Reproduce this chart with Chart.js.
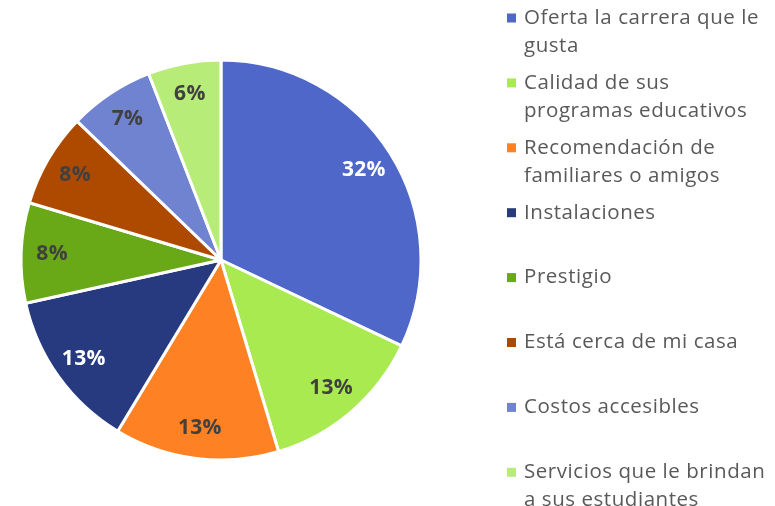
<!DOCTYPE html>
<html>
<head>
<meta charset="utf-8">
<script src="https://cdn.jsdelivr.net/npm/chart.js@4.4.1/dist/chart.umd.min.js"></script>
<style>
html,body{margin:0;padding:0;background:#fff;}
#wrap{width:775px;height:506px;position:relative;}
</style>
</head>
<body>
<div id="wrap"><canvas id="c" width="775" height="506"></canvas></div>
<script>
const categories = [
  "Oferta la carrera que le gusta",
  "Calidad de sus programas educativos",
  "Recomendación de familiares o amigos",
  "Instalaciones",
  "Prestigio",
  "Está cerca de mi casa",
  "Costos accesibles",
  "Servicios que le brindan a sus estudiantes"
];
const legendLines = [
  ["Oferta la carrera que le", "gusta"],
  ["Calidad de sus", "programas educativos"],
  ["Recomendación de", "familiares o amigos"],
  ["Instalaciones"],
  ["Prestigio"],
  ["Está cerca de mi casa"],
  ["Costos accesibles"],
  ["Servicios que le brindan", "a sus estudiantes"]
];
const values = [32.1, 13.3, 13.3, 12.9, 8.1, 7.6, 6.9, 5.9];
const colors = ["#4E67C8", "#A8EA50", "#FE8224", "#273A80", "#69A817", "#AE4A00", "#7083D0", "#B8EC78"];
const labelColors = ["#FFFFFF", "#404040", "#404040", "#FFFFFF", "#404040", "#404040", "#404040", "#404040"];

const total = values.reduce((a, b) => a + b, 0);

const labelPlugin = {
  id: 'sliceLabels',
  afterDatasetsDraw(chart) {
    const ctx = chart.ctx;
    const meta = chart.getDatasetMeta(0);
    ctx.save();
    ctx.font = 'bold 21px "Open Sans", sans-serif';
    ctx.letterSpacing = '0.3px';
    ctx.textAlign = 'center';
    ctx.textBaseline = 'middle';
    meta.data.forEach((arc, i) => {
      const p = arc.getProps(['x', 'y', 'startAngle', 'endAngle', 'outerRadius'], true);
      const mid = (p.startAngle + p.endAngle) / 2;
      const r = p.outerRadius * 0.845;
      const x = p.x + Math.cos(mid) * r;
      const y = p.y + Math.sin(mid) * r;
      ctx.fillStyle = labelColors[i];
      ctx.fillText(Math.round(values[i] / total * 100) + '%', x, y);
    });
    ctx.restore();
  }
};

const legendPlugin = {
  id: 'customLegend',
  afterDraw(chart) {
    const ctx = chart.ctx;
    ctx.save();
    const x0 = 507, tx = 524;
    const firstY = 18, itemStep = 64.9, lineH = 28;
    ctx.textBaseline = 'middle';
    ctx.textAlign = 'left';
    ctx.font = '20.5px "Open Sans", sans-serif';
    ctx.letterSpacing = '0.55px';
    legendLines.forEach((lines, i) => {
      const y = firstY + i * itemStep;
      ctx.fillStyle = colors[i];
      ctx.fillRect(x0, y - 4.5, 9, 9);
      ctx.fillStyle = '#595959';
      lines.forEach((t, j) => ctx.fillText(t, tx, y + j * lineH));
    });
    ctx.restore();
  }
};

new Chart(document.getElementById('c'), {
  type: 'pie',
  data: {
    labels: categories,
    datasets: [{
      data: values,
      backgroundColor: colors,
      borderColor: '#FFFFFF',
      borderWidth: 3
    }]
  },
  options: {
    responsive: false,
    animation: false,
    layout: { padding: { left: 19.5, right: 352.5, top: 58.5, bottom: 44.5 } },
    plugins: {
      legend: { display: false },
      tooltip: { enabled: false }
    }
  },
  plugins: [labelPlugin, legendPlugin]
});
</script>
</body>
</html>
